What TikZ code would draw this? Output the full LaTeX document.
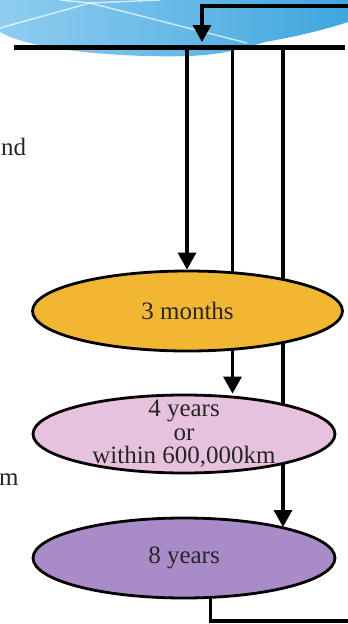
\documentclass[tikz,border=0pt]{standalone}
\usepackage{fontspec}
\setmainfont{Liberation Serif}
\usetikzlibrary{arrows.meta,shapes.geometric}

\definecolor{skyA}{HTML}{3FA6DF}
\definecolor{skyB}{HTML}{8FCDF0}
\definecolor{stageA}{HTML}{F1B731}
\definecolor{stageB}{HTML}{E7C2DF}
\definecolor{stageC}{HTML}{A88BC8}

\tikzset{
  stage/.style={ellipse,draw=black,line width=2.8pt,inner sep=0pt},
  lbl/.style={font=\fontsize{25}{23.5}\selectfont,text=black!85,inner sep=0pt,align=center},
  link/.style={line width=3.2pt},
}

\begin{document}
\begin{tikzpicture}[x=1pt,y=-1pt,>={Triangle[width=18pt,length=17pt]}]
\useasboundingbox (0,0) rectangle (348,624);
% sky band at the top
\shade[left color=skyB,right color=skyA] (0,0) -- (0,32) .. controls (30,50) and (120,58) .. (190,56)
  .. controls (230,54) and (250,46) .. (265,42) .. controls (300,36) and (330,28) .. (348,22) -- (348,0) -- cycle;
\draw[white,opacity=.7,line width=1.4pt] (0,28) -- (90,3) -- (160,0);
\draw[white,opacity=.7,line width=1.4pt] (60,0) -- (90,3) -- (247,43);
% cut-off words on the left
\node[lbl,anchor=base west] (w1) at (1,155) {nd};
\node[lbl,anchor=base west] (w2) at (-1,485) {m};
% taps on the bar, the long ones run behind the stages
\coordinate (b1) at (187,47.5);
\coordinate (b2) at (232.5,47.5);
\coordinate (b3) at (283,47.5);
\coordinate (h2) at (232.5,349);
\coordinate (h3) at (283,463);
\draw[link] (b2) -- (h2);
\draw[link] (b3) -- (h3);
% the three stages
\node[stage,fill=stageA,minimum width=310,minimum height=80,label={[lbl]center:3 months}] (e1) at (187.5,311) {};
\node[stage,fill=stageB,minimum width=302,minimum height=78,label={[lbl]center:{4 years\\or\\within 600,000km}}] (e2) at (184,434) {};
\node[stage,fill=stageC,minimum width=302,minimum height=80,label={[lbl]center:8 years}] (e3) at (184,558) {};
% bar, in and out
\draw[line width=5.5pt] (14,47.5) coordinate (bl) -- (345,47.5) coordinate (br);
\coordinate (in) at (348,6);
\coordinate (tin) at (202,42);
\coordinate (out) at (348,621);
\draw[link,->] (in) -| (tin);
\draw[link,->] (b1) -- (b1 |- e1.north);
\draw[link,->] (h2) -- (b2 |- e2.north);
\draw[link,->] (h3) -- (b3 |- e3.17);
\draw[link] (e3.-57.6) |- (out);
\end{tikzpicture}
\end{document}
